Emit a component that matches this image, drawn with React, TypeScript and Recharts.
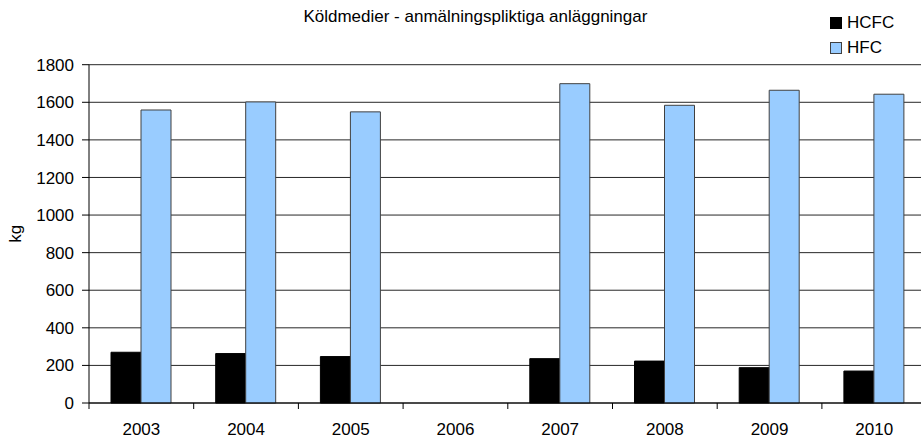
import React from "react";
import { BarChart, Bar, XAxis, YAxis, CartesianGrid } from "recharts";

if (typeof document !== "undefined") {
  document.body.style.margin = "0";
  document.body.style.overflow = "hidden";
}

const years = ["2003", "2004", "2005", "2006", "2007", "2008", "2009", "2010"];
const hcfc: (number | null)[] = [270, 263, 247, null, 236, 223, 188, 170];
const hfc: (number | null)[] = [1559, 1602, 1549, null, 1699, 1584, 1664, 1643];
const yTicks = [0, 200, 400, 600, 800, 1000, 1200, 1400, 1600, 1800];
const seriesNames = ["HCFC", "HFC"];
const seriesColors = ["#000000", "#99CCFF"];
const seriesStrokes = ["#000000", "#404040"];
const title = "Köldmedier - anmälningspliktiga anläggningar";
const yLabel = "kg";

const data = years.map((y, i) => ({ year: y, HCFC: hcfc[i], HFC: hfc[i] }));

const FONT = "'Liberation Sans', Arial, Helvetica, sans-serif";
const CHART_W = 940;
const CHART_H = 440;
const X_H = 37;
const MARGIN = { top: 64.7, right: 13.4, bottom: 0, left: 0 };
const Y_W = 89;
const BAND = (CHART_W - MARGIN.left - MARGIN.right - Y_W) / years.length;
const PLOT_BOTTOM = CHART_H - MARGIN.bottom - X_H;

const XTick = (props: any) => {
  const { x, payload } = props;
  const bx = x - BAND / 2;
  return (
    <g>
      <line x1={bx} x2={bx} y1={PLOT_BOTTOM} y2={PLOT_BOTTOM + 6} stroke="#000" strokeWidth={1} />
      <text x={x} y={PLOT_BOTTOM + 20} dy="0.71em" textAnchor="middle" fill="#000" fontSize={17} fontFamily={FONT}>
        {payload.value}
      </text>
    </g>
  );
};

export default function App() {
  return (
    <div style={{ position: "relative", width: 921, height: 440, overflow: "hidden", background: "#fff" }}>
      <BarChart
        width={CHART_W}
        height={CHART_H}
        data={data}
        margin={MARGIN}
        barGap={0}
        barSize={30}
      >
        <CartesianGrid vertical={false} stroke="#000" strokeOpacity={0.85} />
        <XAxis
          dataKey="year"
          height={X_H}
          axisLine={{ stroke: "#000" }}
          tickLine={false}
          tickSize={6}
          tickMargin={14}
          interval={0}
          tick={<XTick />}
        />
        <YAxis
          width={Y_W}
          domain={[0, 1800]}
          ticks={yTicks}
          interval={0}
          axisLine={{ stroke: "#000" }}
          tickLine={{ stroke: "#000" }}
          tickSize={7}
          tickMargin={8}
          tick={{ fill: "#000", fontSize: 17, fontFamily: FONT }}
          label={{ value: yLabel, angle: -90, position: "center", dx: -30, fill: "#000", fontSize: 17, fontFamily: FONT }}
        />
        <Bar dataKey="HCFC" fill={seriesColors[0]} stroke={seriesStrokes[0]} strokeWidth={1} isAnimationActive={false} />
        <Bar dataKey="HFC" fill={seriesColors[1]} stroke={seriesStrokes[1]} strokeWidth={1} isAnimationActive={false} />
      </BarChart>
      <div
        style={{
          position: "absolute",
          left: 475.4,
          top: 16.5,
          transform: "translate(-50%, -50%)",
          whiteSpace: "nowrap",
          fontFamily: FONT,
          fontSize: 17,
          color: "#000",
          lineHeight: "20px",
        }}
      >
        {title}
      </div>
      <div style={{ position: "absolute", left: 830, top: 10, fontFamily: FONT, fontSize: 17, color: "#000" }}>
        {seriesNames.map((n, i) => (
          <div key={n} style={{ height: 25, display: "flex", alignItems: "center" }}>
            <span
              style={{
                display: "inline-block",
                width: 10,
                height: 10,
                background: seriesColors[i],
                border: `1px solid ${seriesStrokes[i]}`,
                marginRight: 5,
              }}
            />
            <span>{n}</span>
          </div>
        ))}
      </div>
    </div>
  );
}
